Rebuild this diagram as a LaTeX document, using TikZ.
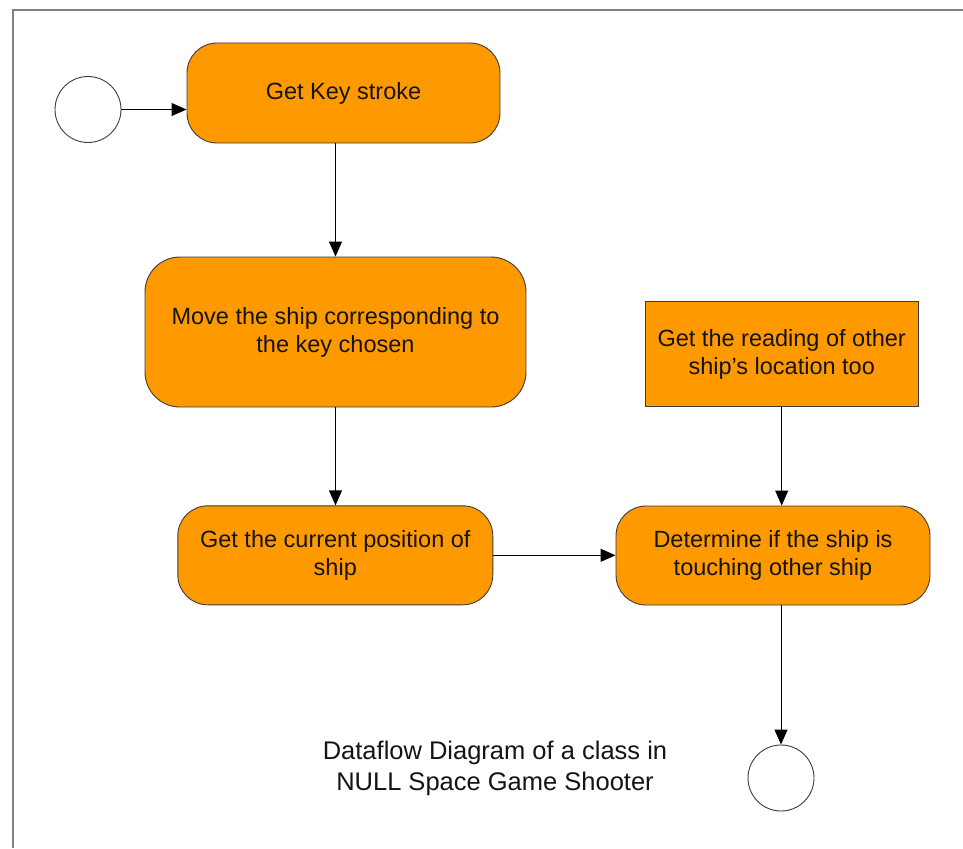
\documentclass[tikz,border=0pt]{standalone}
\usepackage{fontspec}
\setmainfont{Liberation Sans}
\usetikzlibrary{arrows.meta}
\definecolor{boxorange}{RGB}{255,153,0}
\definecolor{boxline}{RGB}{60,60,60}
\definecolor{txt}{RGB}{20,20,20}
\definecolor{framegray}{RGB}{128,128,128}
\tikzset{
  procbox/.style={draw=boxline, line width=0.9pt, fill=boxorange, rounded corners=30pt,
    align=center, inner sep=0pt, text=txt,
    font=\fontsize{23.5}{28}\selectfont},
  databox/.style={draw=boxline, line width=0.9pt, fill=boxorange,
    align=center, inner sep=0pt, text=txt,
    font=\fontsize{23.5}{28}\selectfont},
  terminal/.style={draw=boxline, line width=0.9pt, fill=white, circle, minimum size=66pt, inner sep=0pt},
  flow/.style={draw=black, line width=0.9pt, -{Triangle[length=15pt,width=13pt]}},
  caption/.style={align=center, text=txt, font=\fontsize{25.5}{31}\selectfont}
}
\begin{document}
\begin{tikzpicture}[x=1pt,y=-1pt]
  \useasboundingbox (0,0) rectangle (963,848);
  % page frame (top and left edges)
  \draw[framegray, line width=2.5pt] (13,848) -- (13,10) -- (963,10);

  \node[terminal] (start) at (88,109.5) {};
  \node[procbox, minimum width=313pt, minimum height=100pt] (key) at (343.5,93) {Get Key stroke};
  \node[procbox, rounded corners=35pt, minimum width=381pt, minimum height=150pt] (move) at (335.5,332)
    {Move the ship corresponding to\\the key chosen};
  \node[procbox, minimum width=315pt, minimum height=99pt] (pos) at (335.3,555.3)
    {Get the current position of\\ship};
  \node[databox, minimum width=273pt, minimum height=105pt] (other) at (781.7,354)
    {Get the reading of other\\ship’s location too};
  \node[procbox, minimum width=314pt, minimum height=99pt] (touch) at (773,555.5)
    {Determine if the ship is\\touching other ship};
  \node[terminal] (stop) at (781,778) {};

  \node[caption] (title) at (495,768.5) {Dataflow Diagram of a class in\\NULL Space Game Shooter};

  \draw[flow] (start) -- (start -| key.west);
  \draw[flow] (move.north |- key.south) -- (move.north);
  \draw[flow] (move.south) -- (move.south |- pos.north);
  \draw[flow] (pos.east) -- (pos.east -| touch.west);
  \draw[flow] (other.south) -- (other.south |- touch.north);
  \draw[flow] (stop.north |- touch.south) -- (stop.north);
\end{tikzpicture}
\end{document}
